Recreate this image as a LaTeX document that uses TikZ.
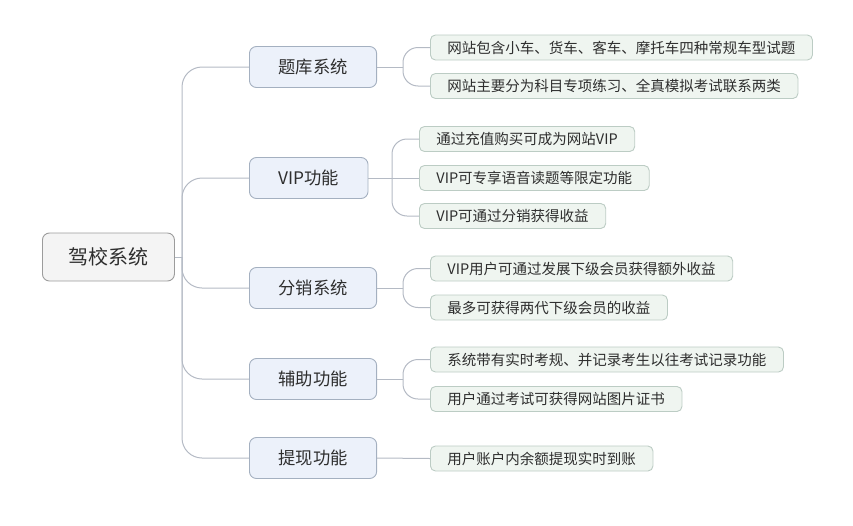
\documentclass[tikz,border=0pt]{standalone}
\usepackage{fontspec}
\setmainfont{Noto Sans CJK SC}
\definecolor{txt}{HTML}{2E2E2E}
\definecolor{rootfill}{HTML}{F4F4F4}
\definecolor{rootdraw}{HTML}{9C9C9C}
\definecolor{lonefill}{HTML}{ECF1FA}
\definecolor{lonedraw}{HTML}{A4B0C0}
\definecolor{leaffill}{HTML}{EFF5F0}
\definecolor{leafdraw}{HTML}{BCCCC4}
\definecolor{link}{HTML}{B4BAC4}
\tikzset{
  rootbox/.style={draw=rootdraw, fill=rootfill, rounded corners=7pt, line width=0.9pt,
    minimum height=48pt, inner xsep=26pt, font=\fontsize{20}{22}\selectfont, text=txt, anchor=west},
  lonebox/.style={draw=lonedraw, fill=lonefill, rounded corners=7pt, line width=0.9pt,
    minimum height=41pt, inner xsep=29pt, font=\fontsize{17.3}{19}\selectfont, text=txt, anchor=west},
  leafbox/.style={draw=leafdraw, fill=leaffill, rounded corners=5pt, line width=0.9pt,
    minimum height=25pt, inner xsep=17pt, inner ysep=0pt, font=\fontsize{14.5}{16}\selectfont, text=txt, anchor=west},
  linkline/.style={draw=link, line width=1pt},
}
\begin{document}
\begin{tikzpicture}[x=1pt,y=-1pt]
\useasboundingbox (0,0) rectangle (853,525);
% root
\node[rootbox] (root) at (42,257) {驾校系统};
% level 1
\node[lonebox] (t1) at (249,67) {题库系统};
\node[lonebox] (t2) at (249,178) {VIP功能};
\node[lonebox] (t3) at (249,288) {分销系统};
\node[lonebox] (t4) at (249,379) {辅助功能};
\node[lonebox] (t5) at (249,458) {提现功能};
% leaves
\node[leafbox] (l11) at (430,47.5) {网站包含小车、货车、客车、摩托车四种常规车型试题};
\node[leafbox] (l12) at (430,86) {网站主要分为科目专项练习、全真模拟考试联系两类};
\node[leafbox] (l21) at (419,139) {通过充值购买可成为网站VIP};
\node[leafbox] (l22) at (419,178) {VIP可专享语音读题等限定功能};
\node[leafbox] (l23) at (419,216) {VIP可通过分销获得收益};
\node[leafbox] (l31) at (430,268.5) {VIP用户可通过发展下级会员获得额外收益};
\node[leafbox] (l32) at (430,307.5) {最多可获得两代下级会员的收益};
\node[leafbox] (l41) at (430,359.5) {系统带有实时考规、并记录考生以往考试记录功能};
\node[leafbox] (l42) at (430,399) {用户通过考试可获得网站图片证书};
\node[leafbox] (l51) at (430,458.5) {用户账户内余额提现实时到账};
% junctions
\coordinate (trunk) at (182,257);
\coordinate (j1) at (403,67);
\coordinate (j2) at (392,178);
\coordinate (j3) at (403,288);
\coordinate (j4) at (403,379);
% connectors
\begin{scope}[on background layer/.style={}]
\draw[linkline] (root.east) -- (trunk);
\foreach \n in {t1,t2,t3,t4,t5}
  \draw[linkline, rounded corners=20pt] (trunk) |- (\n.west);
\draw[linkline] (t1.east) -- (j1);
\draw[linkline, rounded corners=15pt] (j1) |- (l11.west);
\draw[linkline, rounded corners=15pt] (j1) |- (l12.west);
\draw[linkline] (t2.east) -- (j2);
\draw[linkline, rounded corners=15pt] (j2) |- (l21.west);
\draw[linkline] (j2) -- (l22.west);
\draw[linkline, rounded corners=15pt] (j2) |- (l23.west);
\draw[linkline] (t3.east) -- (j3);
\draw[linkline, rounded corners=15pt] (j3) |- (l31.west);
\draw[linkline, rounded corners=15pt] (j3) |- (l32.west);
\draw[linkline] (t4.east) -- (j4);
\draw[linkline, rounded corners=15pt] (j4) |- (l41.west);
\draw[linkline, rounded corners=15pt] (j4) |- (l42.west);
\draw[linkline] (t5.east) -- (l51.west);
\end{scope}
\end{tikzpicture}
\end{document}
